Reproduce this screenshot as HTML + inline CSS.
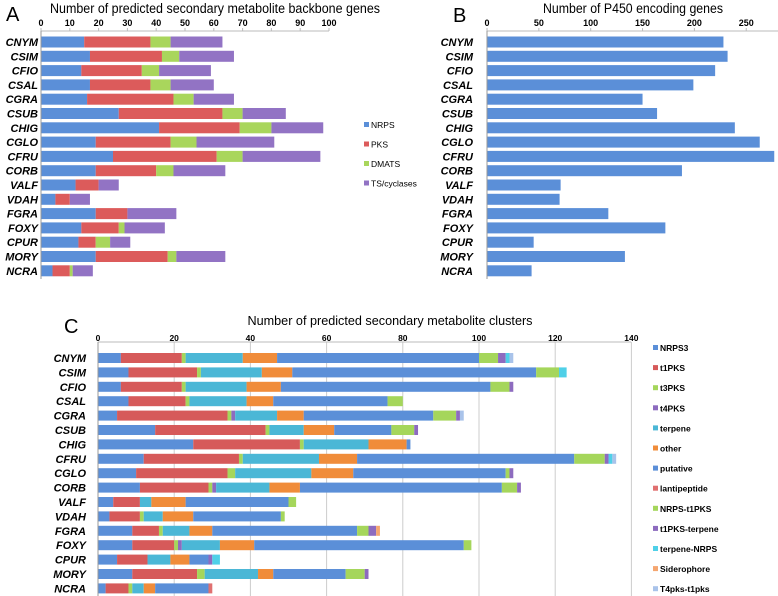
<!DOCTYPE html>
<html><head><meta charset="utf-8"><style>
body{margin:0;background:#fff;}
svg{display:block;font-family:"Liberation Sans",sans-serif;}
</style></head><body>
<svg id="chart" width="778" height="596" viewBox="0 0 778 596" xmlns="http://www.w3.org/2000/svg">
<text x="6" y="21" font-size="20">A</text>
<text x="215" y="13" font-size="13.5" text-anchor="middle" textLength="330" lengthAdjust="spacingAndGlyphs">Number of predicted secondary metabolite backbone genes</text>
<text x="453" y="22" font-size="20">B</text>
<text x="633" y="13" font-size="13.5" text-anchor="middle" textLength="180" lengthAdjust="spacingAndGlyphs">Number of P450 encoding genes</text>
<text x="64" y="333" font-size="20">C</text>
<text x="390" y="325" font-size="13" text-anchor="middle" textLength="285" lengthAdjust="spacingAndGlyphs">Number of predicted secondary metabolite clusters</text>
<g id="ga"></g><g id="gb"></g><g id="gc"></g>
</svg>
<script>
const species=["CNYM","CSIM","CFIO","CSAL","CGRA","CSUB","CHIG","CGLO","CFRU","CORB","VALF","VDAH","FGRA","FOXY","CPUR","MORY","NCRA"];
const speciesC=["CNYM","CSIM","CFIO","CSAL","CGRA","CSUB","CHIG","CFRU","CGLO","CORB","VALF","VDAH","FGRA","FOXY","CPUR","MORY","NCRA"];
// Panel A
const seriesA=["NRPS","PKS","DMATS","TS/cyclases"];
const nrpsA=[15,17,14,17,16,27,41,19,25,19,12,5,19,14,13,19,4];
const pksA=[23,25,21,21,30,36,28,26,36,21,8,5,11,13,6,25,6];
const dmatsA=[7,6,6,7,7,7,11,9,9,6,0,0,0,2,5,3,1];
const tsA=[18,19,18,15,14,15,18,27,27,18,7,7,17,14,7,17,7];
const ticksA=[0,10,20,30,40,50,60,70,80,90,100];
// Panel B
const p450=[228,232,220,199,150,164,239,263,277,188,71,70,117,172,45,133,43];
const ticksB=[0,50,100,150,200,250];
// Panel C
const seriesC=["NRPS3","t1PKS","t3PKS","t4PKS","terpene","other","putative","lantipeptide","NRPS-t1PKS","t1PKS-terpene","terpene-NRPS","Siderophore","T4pks-t1pks"];
const cNRPS=[6,8,6,8,5,15,25,12,10,11,4,3,9,9,5,9,2];
const cT1=[16,18,16,15,29,29,28,25,24,18,7,8,7,11,8,17,6];
const cT3=[1,1,1,1,1,1,1,1,2,1,0,1,1,1,0,2,1];
const cT4=[0,0,0,0,1,0,0,0,0,1,0,0,0,1,0,0,0];
const cTerp=[15,16,16,15,11,9,17,20,20,14,3,5,7,10,6,14,3];
const cOther=[9,8,9,7,7,8,10,10,11,8,9,8,6,9,5,4,3];
const cPut=[53,64,55,30,34,15,1,57,40,53,27,23,38,55,5,19,14];
const cLanti=[0,0,0,0,0,0,0,0,0,0,0,0,0,0,0,0,1];
const cNT1=[5,6,5,4,6,6,0,8,1,4,2,1,3,2,0,5,0];
const cT1Terp=[2,0,1,0,1,1,0,1,1,1,0,0,2,0,1,1,0];
const cTerpN=[1,2,0,0,0,0,0,1,0,0,0,0,0,0,2,0,0];
const cSid=[0,0,0,0,0,0,0,0,0,0,0,0,1,0,0,0,0];
const cT4pks=[1,0,0,0,1,0,0,1,0,0,0,0,0,0,0,0,0];
const ticksC=[0,20,40,60,80,100,120,140];

const NS="http://www.w3.org/2000/svg";
function mk(parent,tag,attrs,txt){const e=document.createElementNS(NS,tag);for(const k in attrs)e.setAttribute(k,attrs[k]);if(txt!==undefined)e.textContent=txt;parent.appendChild(e);return e;}

// ---- Panel A ----
const ga=document.getElementById('ga');
const xA=v=>41+v*2.88; const yA=i=>42+i*14.3;
const colA=["#5b8fd8","#dc5b5b","#a9d65c","#9273c4"];
const seriesDataA=[nrpsA,pksA,dmatsA,tsA];
mk(ga,'line',{x1:41,y1:31,x2:329,y2:31,stroke:'#bbb'});
ticksA.forEach(t=>{const e=mk(ga,'text',{x:xA(t),y:26,'font-size':9,'font-weight':'bold','text-anchor':'middle'},t);


mk(ga,'line',{x1:xA(t),y1:28,x2:xA(t),y2:31,stroke:'#bbb'});});
species.forEach((s,i)=>{const l=mk(ga,'text',{x:38,y:yA(i)+4,'font-size':11,'font-weight':'bold','font-style':'italic','text-anchor':'end'},s);


let acc=0;seriesDataA.forEach((arr,k)=>{const v=arr[i];if(v>0){const r=mk(ga,'rect',{x:xA(acc),y:yA(i)-5.5,width:v*2.88,height:11,fill:colA[k]});

}acc+=v;});});
mk(ga,'line',{x1:41,y1:31,x2:41,y2:279,stroke:'#999'});
seriesA.forEach((n,k)=>{const yy=125+k*19.5;mk(ga,'rect',{x:364,y:yy-3,width:5,height:5,fill:colA[k]});
const t=mk(ga,'text',{x:371,y:yy+3,'font-size':8.5},n);

});

// ---- Panel B ----
const gb=document.getElementById('gb');
const xB=v=>487+v*1.037;
mk(gb,'line',{x1:487,y1:31,x2:778,y2:31,stroke:'#bbb'});
ticksB.forEach(t=>{const e=mk(gb,'text',{x:xB(t),y:26,'font-size':9,'font-weight':'bold','text-anchor':'middle'},t);


mk(gb,'line',{x1:xB(t),y1:28,x2:xB(t),y2:31,stroke:'#bbb'});});
species.forEach((s,i)=>{const l=mk(gb,'text',{x:473,y:yA(i)+4,'font-size':11,'font-weight':'bold','font-style':'italic','text-anchor':'end'},s);


const r=mk(gb,'rect',{x:xB(0),y:yA(i)-5.5,width:p450[i]*1.037,height:11,fill:'#5b8fd8'});

});
mk(gb,'line',{x1:487,y1:31,x2:487,y2:279,stroke:'#999'});

// ---- Panel C ----
const gc=document.getElementById('gc');
const xC=v=>98+v*3.81; const yC=i=>358+i*14.4;
const colC=["#5b8fd8","#d65a5a","#a5d65b","#8d6bbf","#4bb7d6","#f08c3a","#5b8fd8","#e07070","#a5d65b","#8d6bbf","#4fd0e8","#f5a670","#a9c3ea"];
const seriesDataC=[cNRPS,cT1,cT3,cT4,cTerp,cOther,cPut,cLanti,cNT1,cT1Terp,cTerpN,cSid,cT4pks];
ticksC.forEach(t=>{mk(gc,'line',{x1:xC(t),y1:342,x2:xC(t),y2:596,stroke:'#ccc'});
const e=mk(gc,'text',{x:xC(t),y:341,'font-size':8.5,'font-weight':'bold','text-anchor':'middle'},t);

});
mk(gc,'line',{x1:98,y1:342,x2:631,y2:342,stroke:'#bbb'});
speciesC.forEach((s,i)=>{const l=mk(gc,'text',{x:86,y:yC(i)+4,'font-size':11,'font-weight':'bold','font-style':'italic','text-anchor':'end'},s);


let acc=0;seriesDataC.forEach((arr,k)=>{const v=arr[i];if(v>0){const r=mk(gc,'rect',{x:xC(acc),y:yC(i)-5,width:v*3.81,height:10,fill:colC[k]});

}acc+=v;});});
mk(gc,'line',{x1:98,y1:342,x2:98,y2:596,stroke:'#999'});
const legC=["NRPS3","t1PKS","t3PKS","t4PKS","terpene","other","putative","lantipeptide","NRPS-t1PKS","t1PKS-terpene","terpene-NRPS","Siderophore","T4pks-t1pks"];
const legCol=["#5b8fd8","#d65a5a","#a5d65b","#8d6bbf","#4bb7d6","#f08c3a","#5b8fd8","#e07070","#a5d65b","#8d6bbf","#4fd0e8","#f5a670","#a9c3ea"];
legC.forEach((n,k)=>{const yy=348+k*20.1;mk(gc,'rect',{x:653,y:yy-3,width:5,height:5,fill:legCol[k]});
const t=mk(gc,'text',{x:660,y:yy+3,'font-size':8.5,'font-weight':'bold'},n);

});
</script>
</body></html>
